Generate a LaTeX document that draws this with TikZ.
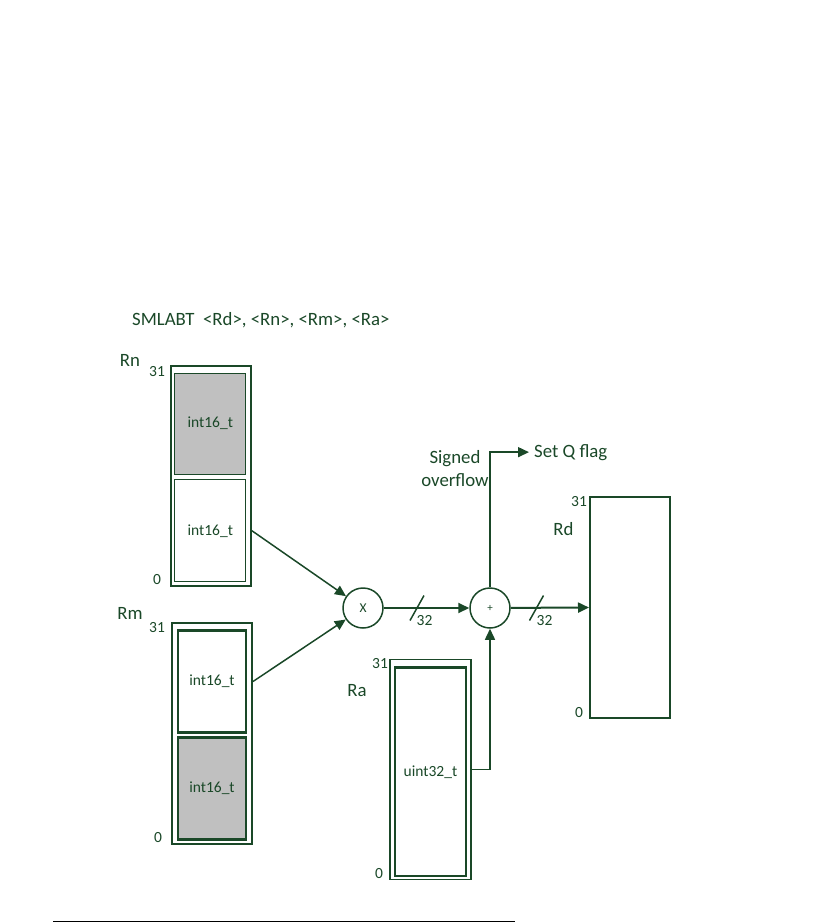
\documentclass[tikz,border=0pt]{standalone}
\usepackage{fontspec}
\setmainfont{Carlito}
\usepackage{xcolor}
\usepackage{tikz}
\usetikzlibrary{arrows.meta, positioning, calc}
\definecolor{dkgreen}{RGB}{26,72,40}
\definecolor{halfgray}{RGB}{192,192,192}

\begin{document}
\begin{tikzpicture}[x=1pt, y=-1pt,
    reg/.style={rectangle, draw=dkgreen, line width=2pt, inner sep=0pt, minimum width=80pt},
    half/.style={rectangle, draw=dkgreen, inner sep=0pt, text=dkgreen, font=\fontsize{15.5}{18}\selectfont},
    op/.style={circle, draw=dkgreen, line width=1.5pt, minimum size=40pt, inner sep=0pt, text=dkgreen},
    lbl/.style={text=dkgreen, inner sep=0pt, anchor=base, font=\fontsize{18.8}{23.3}\selectfont},
    bitno/.style={text=dkgreen, inner sep=0pt, anchor=base, font=\fontsize{15.5}{17}\selectfont},
    wire/.style={draw=dkgreen, line width=2pt, -{Triangle[length=11pt, width=10pt]}},
    slash/.style={draw=dkgreen, line width=1.5pt}]
    \useasboundingbox (0,0) rectangle (834,923);
    % title
    \node[lbl, anchor=base west] (title) at (132,325.5) {SMLABT\ \ <Rd>, <Rn>, <Rm>, <Ra>};
    % source registers
    \node[reg, minimum height=220pt] (rn) at (211,476) {};
    \node[half, fill=halfgray, line width=1pt, minimum width=70.7pt, minimum height=100.7pt] (rnhi) at (210.3,423.7) {int16\_t};
    \node[half, line width=1pt, minimum width=70.7pt, minimum height=101.7pt] (rnlo) at (210.3,530.8) {int16\_t};
    \node[reg, minimum height=221pt] (rm) at (212,733.5) {};
    \node[half, line width=2.5pt, minimum width=68pt, minimum height=101.6pt] (rmhi) at (212,681.5) {int16\_t};
    \node[half, fill=halfgray, line width=2.5pt, minimum width=68pt, minimum height=102pt] (rmlo) at (212,788.3) {int16\_t};
    \node[reg, line width=1.5pt, minimum width=81pt, minimum height=220pt] (ra) at (430.5,769.3) {};
    \node[half, line width=2.5pt, minimum width=71pt, minimum height=208.7pt] (raval) at (430.5,771.7) {uint32\_t};
    % destination
    \node[reg, minimum height=221.6pt] (rd) at (630,607.5) {};
    % operators
    \node[op, font=\fontsize{13.5}{15}\selectfont] (mul) at (363,608) {X};
    \node[op, font=\fontsize{11}{12}\selectfont] (add) at (490,608) {+};
    % names and bit numbers
    \foreach \n/\x/\y in {Rn/130/366, Rm/130/619, Ra/357/696, Rd/563.5/535}
        \node[lbl] (lbl\n) at (\x,\y) {\n};
    \foreach \n/\x/\y [count=\i] in {31/157/376, 0/157/584, 31/157/632, 0/158/842,
                                     31/380/668, 0/379/878, 31/579/506, 0/579/717}
        \node[bitno] (bit\i) at (\x,\y) {\n};
    \node[lbl, anchor=base west, inner xsep=5pt] (qflag) at (529,457) {Set Q flag};
    \node[lbl, align=center] (ovf) at (455,486.7) {Signed\\overflow};
    % data path
    \draw[wire, line width=1.5pt] (rn.east |- rnlo) -- (mul);
    \draw[wire, line width=1.5pt] (rm.east |- rmhi) -- (mul);
    \draw[wire] (mul) -- (add);
    \draw[wire] (add) -- (rd.west);
    \draw[wire, line width=1.5pt] (ra.east) -| (add);
    \draw[wire, line width=1.5pt] (add) |- (qflag);
    % bus widths
    \coordinate (bus1) at (417,608);
    \coordinate (bus2) at (536.5,608);
    \draw[slash] (bus1) ++(-7,12.5) -- ++(14,-25);
    \draw[slash] (bus2) ++(-7,12.5) -- ++(14,-25);
    \node[bitno] (w1) at (424.5,625) {32};
    \node[bitno] (w2) at (544.5,625) {32};
    % footer rule
    \draw[black, line width=1pt] (53,921.5) -- (515,921.5);
\end{tikzpicture}
\end{document}
